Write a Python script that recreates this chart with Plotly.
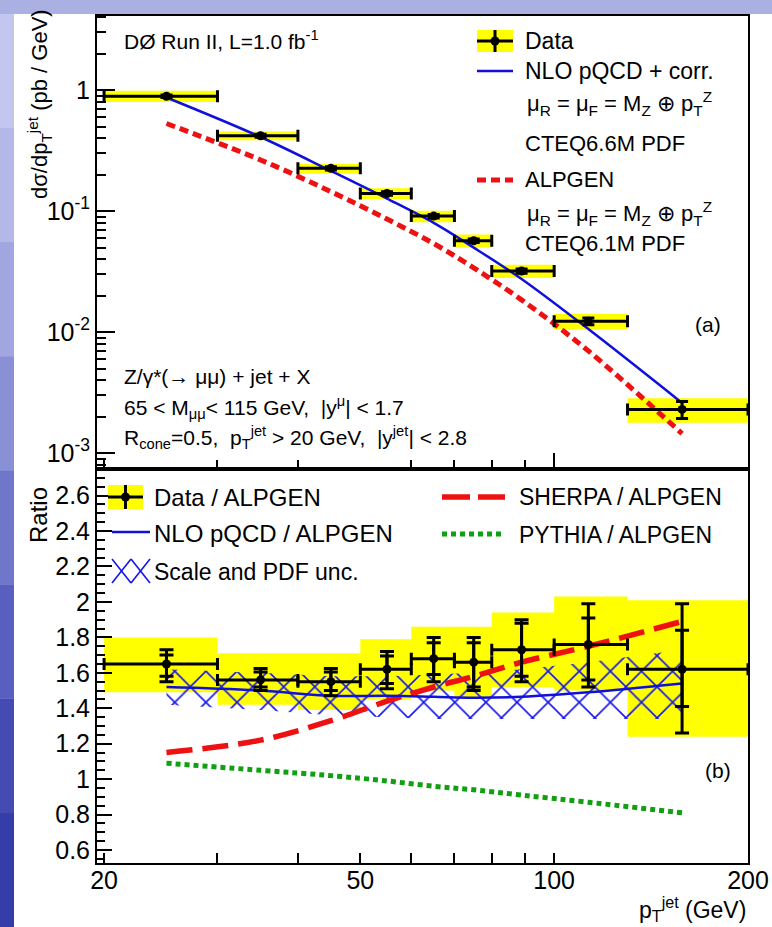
import math
import plotly.graph_objects as go

W, H = 772, 927
FONT = "Liberation Sans, Arial, Helvetica, sans-serif"

# ---------------- data ----------------
bin_lo = [20, 30, 40, 50, 60, 70, 80, 100, 130]
bin_hi = [30, 40, 50, 60, 70, 80, 100, 130, 200]
pt = [25, 35, 45, 55, 65, 75, 89, 113, 158]

# panel (a): cross section (pb/GeV)
xsec = [0.89, 0.42, 0.226, 0.140, 0.091, 0.057, 0.032, 0.0123, 0.0023]
xsec_err = [0.02, 0.012, 0.007, 0.0045, 0.003, 0.002, 0.0013, 0.0008, 0.00037]
xsec_sys_lo = [0.80, 0.385, 0.205, 0.126, 0.081, 0.050, 0.0280, 0.0105, 0.00178]
xsec_sys_hi = [0.99, 0.455, 0.246, 0.155, 0.101, 0.064, 0.0360, 0.0142, 0.00285]
nlo = [0.87, 0.41, 0.215, 0.127, 0.080, 0.050, 0.0275, 0.0106, 0.0026]
alpgen = [0.53, 0.265, 0.145, 0.086, 0.054, 0.034, 0.0185, 0.0070, 0.00145]

# panel (b): ratios to ALPGEN
ratio = [1.65, 1.56, 1.55, 1.62, 1.68, 1.66, 1.73, 1.76, 1.62]
ratio_tot_lo = [1.55, 1.50, 1.47, 1.51, 1.55, 1.50, 1.55, 1.52, 1.26]
ratio_tot_hi = [1.73, 1.625, 1.625, 1.72, 1.80, 1.80, 1.90, 1.99, 1.99]
ratio_stat_lo = [1.58, 1.52, 1.50, 1.54, 1.59, 1.52, 1.58, 1.56, 1.41]
ratio_stat_hi = [1.70, 1.605, 1.605, 1.695, 1.77, 1.77, 1.88, 1.91, 1.84]
ratio_sys_lo = [1.49, 1.42, 1.39, 1.45, 1.50, 1.46, 1.52, 1.50, 1.24]
ratio_sys_hi = [1.80, 1.71, 1.71, 1.79, 1.86, 1.86, 1.94, 2.03, 2.01]
nlo_ratio = [1.52, 1.50, 1.47, 1.47, 1.465, 1.46, 1.465, 1.49, 1.54]
unc_lo = [1.42, 1.39, 1.36, 1.35, 1.34, 1.34, 1.34, 1.34, 1.34]
unc_hi = [1.62, 1.60, 1.58, 1.58, 1.59, 1.60, 1.62, 1.66, 1.73]
sherpa_ratio = [1.15, 1.22, 1.33, 1.44, 1.52, 1.58, 1.66, 1.75, 1.89]
pythia_ratio = [1.09, 1.05, 1.02, 0.99, 0.96, 0.94, 0.91, 0.87, 0.81]

# tick labels
x_tickvals = [20, 50, 100, 200]
x_ticktext = ["20", "50", "100", "200"]
y1_tickvals = [0.001, 0.01, 0.1, 1]
y1_ticktext = ["10<sup>-3</sup>", "10<sup>-2</sup>", "10<sup>-1</sup>", "1"]
y2_tickvals = [0.6, 0.8, 1.0, 1.2, 1.4, 1.6, 1.8, 2.0, 2.2, 2.4, 2.6]
y2_ticktext = ["0.6", "0.8", "1", "1.2", "1.4", "1.6", "1.8", "2", "2.2", "2.4", "2.6"]

# ---------------- geometry helpers (pixels -> paper) ----------------
def fx(p):
    return p / W

def fy(p):
    return 1 - p / H

X0, X1 = 97, 748
TOP0, MID, BOT = 16, 469, 863


def boxes(lo_y, hi_y):
    xs, ys = [], []
    for a, b, c, d in zip(bin_lo, bin_hi, lo_y, hi_y):
        xs += [a, b, b, a, a, None]
        ys += [c, c, d, d, c, None]
    return xs, ys


fig = go.Figure()

# ---------- panel (a) ----------
bx, by = boxes(xsec_sys_lo, xsec_sys_hi)
fig.add_trace(go.Scatter(x=bx, y=by, fill="toself", fillcolor="#ffff00",
                         mode="lines", line=dict(width=0), xaxis="x", yaxis="y",
                         hoverinfo="skip"))
fig.add_trace(go.Scatter(x=pt, y=alpgen, mode="lines", line_shape="spline",
                         line=dict(color="#ee1111", width=5, dash="9px,5px"),
                         xaxis="x", yaxis="y"))
fig.add_trace(go.Scatter(x=pt, y=nlo, mode="lines", line_shape="spline",
                         line=dict(color="#1010dd", width=2.5),
                         xaxis="x", yaxis="y"))
fig.add_trace(go.Scatter(
    x=pt, y=xsec, mode="markers", marker=dict(color="black", size=9),
    error_x=dict(type="data", symmetric=False,
                 array=[h - p for h, p in zip(bin_hi, pt)],
                 arrayminus=[p - l for l, p in zip(bin_lo, pt)],
                 color="black", thickness=3, width=6),
    error_y=dict(type="data", array=xsec_err, color="black", thickness=3, width=6),
    xaxis="x", yaxis="y"))

# ---------- panel (b) ----------
bx2, by2 = boxes(ratio_sys_lo, ratio_sys_hi)
fig.add_trace(go.Scatter(x=bx2, y=by2, fill="toself", fillcolor="#ffff00",
                         mode="lines", line=dict(width=0), xaxis="x2", yaxis="y2",
                         hoverinfo="skip"))
fig.add_trace(go.Scatter(
    x=pt + pt[::-1], y=unc_hi + unc_lo[::-1], fill="toself",
    fillcolor="rgba(0,0,0,0)", mode="lines", line=dict(width=0),
    fillpattern=dict(shape="x", fgcolor="#1515ee", bgcolor="rgba(0,0,0,0)",
                     fgopacity=1, size=22, solidity=0.14),
    xaxis="x2", yaxis="y2", hoverinfo="skip"))
fig.add_trace(go.Scatter(x=pt, y=pythia_ratio, mode="lines", line_shape="spline",
                         line=dict(color="#11a011", width=5, dash="5px,4px"),
                         xaxis="x2", yaxis="y2"))
fig.add_trace(go.Scatter(x=pt, y=sherpa_ratio, mode="lines", line_shape="spline",
                         line=dict(color="#ee1111", width=5.5, dash="26px,10px"),
                         xaxis="x2", yaxis="y2"))
fig.add_trace(go.Scatter(x=pt, y=nlo_ratio, mode="lines", line_shape="spline",
                         line=dict(color="#1010dd", width=2.5),
                         xaxis="x2", yaxis="y2"))
fig.add_trace(go.Scatter(
    x=pt, y=ratio, mode="markers", marker=dict(color="black", size=9),
    error_x=dict(type="data", symmetric=False,
                 array=[h - p for h, p in zip(bin_hi, pt)],
                 arrayminus=[p - l for l, p in zip(bin_lo, pt)],
                 color="black", thickness=3, width=6),
    error_y=dict(type="data", symmetric=False,
                 array=[h - r for h, r in zip(ratio_tot_hi, ratio)],
                 arrayminus=[r - l for l, r in zip(ratio_tot_lo, ratio)],
                 color="black", thickness=3, width=7),
    xaxis="x2", yaxis="y2"))
fig.add_trace(go.Scatter(
    x=pt, y=ratio, mode="markers", marker=dict(color="black", size=1, opacity=0),
    error_y=dict(type="data", symmetric=False,
                 array=[h - r for h, r in zip(ratio_stat_hi, ratio)],
                 arrayminus=[r - l for l, r in zip(ratio_stat_lo, ratio)],
                 color="black", thickness=3, width=7),
    xaxis="x2", yaxis="y2"))

# ---------------- axes ----------------
xr = [math.log10(19.5), math.log10(200)]
xdom = [fx(X0), fx(X1)]
x_minor = [30, 40, 60, 70, 80, 90]
common = dict(showline=True, linecolor="black", linewidth=2, mirror=True,
              showgrid=False, zeroline=False, ticks="inside", tickcolor="black",
              tickwidth=1.5, automargin=False)

y1_minor = [m * 10 ** e for e in (-4, -3, -2, -1, 0) for m in range(2, 10)
            if 7.4e-4 < m * 10 ** e < 4.1]

fig.update_layout(
    xaxis=dict(type="log", range=xr, domain=xdom, anchor="y",
               showticklabels=False, tickmode="array", tickvals=[100],
               ticklen=16,
               minor=dict(tickmode="array", tickvals=[20] + x_minor,
                          ticks="inside", ticklen=9, tickcolor="black"),
               **common),
    yaxis=dict(type="log", range=[math.log10(7.4e-4), math.log10(4.1)],
               domain=[fy(MID), fy(TOP0)], anchor="x",
               tickmode="array", tickvals=y1_tickvals, ticktext=y1_ticktext,
               ticklen=18, tickfont=dict(size=25, family=FONT, color="black"),
               minor=dict(tickmode="array", tickvals=y1_minor,
                          ticks="inside", ticklen=9, tickcolor="black"),
               **common),
    xaxis2=dict(type="log", range=xr, domain=xdom, anchor="y2",
                tickmode="array", tickvals=x_tickvals, ticktext=x_ticktext,
                ticklen=10, tickfont=dict(size=25, family=FONT, color="black"),
                ticklabelstandoff=-6,
                minor=dict(tickmode="array", tickvals=x_minor,
                           ticks="inside", ticklen=10, tickcolor="black"),
                **common),
    yaxis2=dict(range=[0.527, 2.75], domain=[fy(BOT), fy(MID)], anchor="x2",
                tickmode="array", tickvals=y2_tickvals, ticktext=y2_ticktext,
                ticklen=15, tickfont=dict(size=25, family=FONT, color="black"),
                minor=dict(tickmode="linear", tick0=0.5, dtick=0.05,
                           ticks="inside", ticklen=8, tickcolor="black"),
                **common),
)

# ---------------- background, legends (paper coordinates) ----------------
shapes = []
shapes.append(dict(type="rect", xref="paper", yref="paper", layer="below",
                   x0=fx(0), x1=fx(W), y0=fy(0), y1=fy(14),
                   fillcolor="#aab0e2", line=dict(width=0)))
strip_cols = ["#c3c6ee", "#b4b8e8", "#a1a6e0", "#8a90d6", "#7077cb", "#585fbe",
              "#444cb3", "#353ea8"]
n = len(strip_cols)
for i, c in enumerate(strip_cols):
    shapes.append(dict(type="rect", xref="paper", yref="paper", layer="below",
                       x0=fx(0), x1=fx(14), y0=fy(14 + (H - 14) * (i + 1) / n),
                       y1=fy(14 + (H - 14) * i / n),
                       fillcolor=c, line=dict(width=0)))
shapes.append(dict(type="rect", xref="paper", yref="paper", layer="below",
                   x0=fx(14), x1=fx(W), y0=fy(H), y1=fy(14),
                   fillcolor="white", line=dict(width=0)))


def pline(x0, y0, x1, y1, color, width, dash=None):
    ln = dict(color=color, width=width)
    if dash:
        ln["dash"] = dash
    shapes.append(dict(type="line", xref="paper", yref="paper",
                       x0=fx(x0), y0=fy(y0), x1=fx(x1), y1=fy(y1), line=ln))


def data_symbol(xa, xb, ya, yb):
    shapes.append(dict(type="rect", xref="paper", yref="paper",
                       x0=fx(xa), x1=fx(xb), y0=fy(yb), y1=fy(ya),
                       fillcolor="#ffff00", line=dict(width=0)))
    xm, ym = (xa + xb) / 2, (ya + yb) / 2
    pline(xa, ym, xb, ym, "black", 3)
    pline(xm, ya, xm, yb, "black", 3)
    shapes.append(dict(type="circle", xref="paper", yref="paper",
                       x0=fx(xm - 4.5), x1=fx(xm + 4.5), y0=fy(ym + 4.5),
                       y1=fy(ym - 4.5), fillcolor="black", line=dict(width=0)))


# top legend
data_symbol(477, 513, 30, 52)
pline(477, 71, 513, 71, "#1010dd", 2.5)
pline(477, 180, 513, 180, "#ee1111", 5, "9px,5px")
# bottom legend
data_symbol(108, 143, 485, 509)
pline(112, 532, 150, 532, "#1010dd", 2.5)
for xa, xb in [(112, 131), (131, 150)]:
    pline(xa, 559, xb, 583, "#1515ee", 1.6)
    pline(xa, 583, xb, 559, "#1515ee", 1.6)
pline(442, 497, 470, 497, "#ee1111", 5.5)
pline(478, 497, 505, 497, "#ee1111", 5.5)
pline(442, 534, 505, 534, "#11a011", 5, "5px,4px")

fig.update_layout(shapes=shapes)

ann = []


def text(x, y, s, size=22, anchor="left", angle=0):
    ann.append(dict(xref="paper", yref="paper", x=fx(x), y=fy(y), text=s,
                    showarrow=False, xanchor=anchor, yanchor="middle",
                    textangle=angle,
                    font=dict(size=size, family=FONT, color="black")))


MU = "μ<sub>R</sub> = μ<sub>F</sub> = M<sub>Z</sub> ⊕ p<sub>T</sub><sup>Z</sup>"
text(523, 41, "Data", 23)
text(523, 71, "NLO pQCD + corr.", 23)
text(525, 104, MU, 22)
text(523, 144, "CTEQ6.6M PDF", 22)
text(523, 179, "ALPGEN", 22)
text(525, 213, MU, 22)
text(523, 243, "CTEQ6.1M PDF", 22)
text(122, 40, "DØ Run II, L=1.0 fb<sup>-1</sup>", 21)
text(693, 324, "(a)", 21)
text(122, 376, "Z/γ*(→ μμ) + jet + X", 21)
text(122, 407, "65 < M<sub>μμ</sub>< 115 GeV,  |y<sup>μ</sup>| < 1.7", 21)
text(122, 437, "R<sub>cone</sub>=0.5,  p<sub>T</sub><sup>jet</sup> > 20 GeV,  |y<sup>jet</sup>| < 2.8", 21)

text(152, 497, "Data / ALPGEN", 24)
text(152, 533, "NLO pQCD / ALPGEN", 24)
text(152, 572, "Scale and PDF unc.", 23)
text(517, 497, "SHERPA / ALPGEN", 23)
text(517, 535, "PYTHIA / ALPGEN", 23)
text(703, 770, "(b)", 21)

text(40, 104, "dσ/dp<sub>T</sub><sup>jet</sup> (pb / GeV)", 22, "center", -90)
text(38, 515, "Ratio", 24, "center", -90)
text(748, 909, "p<sub>T</sub><sup>jet</sup> (GeV)", 23, "right")

fig.update_layout(
    annotations=ann,
    width=W, height=H,
    margin=dict(l=0, r=0, t=0, b=0, pad=0),
    paper_bgcolor="#aab0e2", plot_bgcolor="white",
    showlegend=False,
    font=dict(family=FONT, color="black"),
)

fig.write_html("out.html", config={"displayModeBar": False},
               post_script="document.body.style.margin='0';"
                           "document.body.style.background='#aab0e2';")
